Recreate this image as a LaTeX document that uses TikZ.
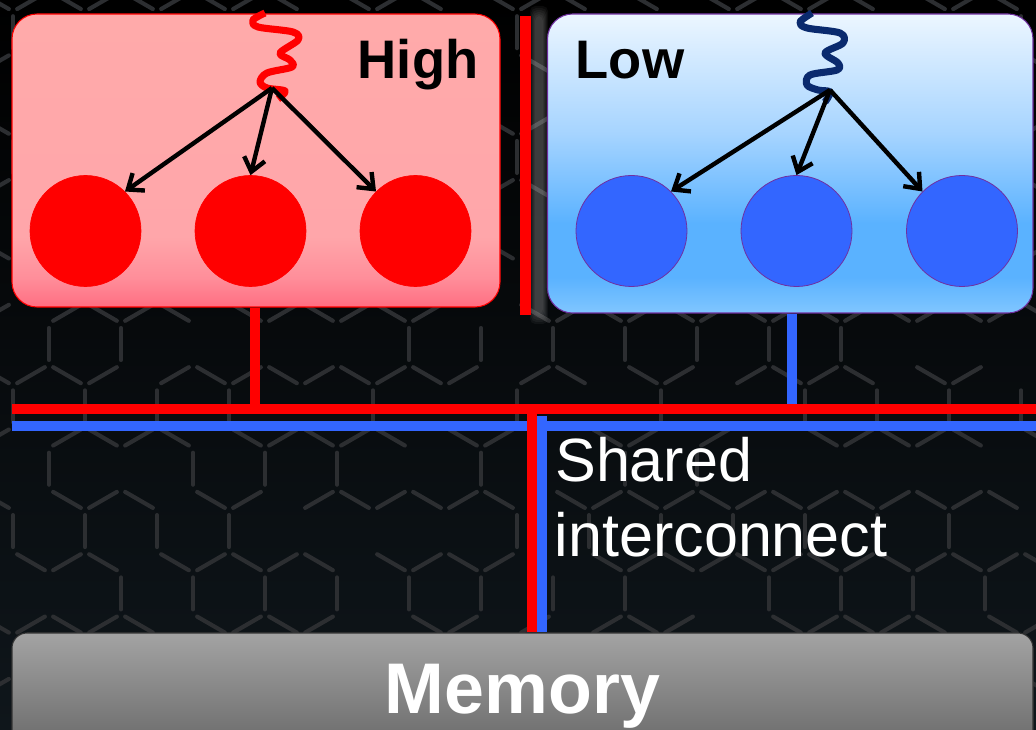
\documentclass[tikz,border=0pt]{standalone}
\usepackage{fontspec}
\setmainfont{Liberation Sans}
\usetikzlibrary{arrows.meta}

% palette
\definecolor{bgtop}{HTML}{000000}
\definecolor{bgmid}{HTML}{090D11}
\definecolor{bgbot}{HTML}{0F161B}
\definecolor{hexgray}{HTML}{2C2E31}
\definecolor{busred}{HTML}{FF0000}
\definecolor{busblue}{HTML}{3366FF}
\definecolor{lowedge}{HTML}{7030A0}
\definecolor{navy}{HTML}{0A2A6E}
\definecolor{hiT}{HTML}{FFAAAA}
\definecolor{hiM}{HTML}{FFA6AA}
\definecolor{hiL}{HTML}{FF8E9A}
\definecolor{hiB}{HTML}{FF6E82}
\definecolor{loT}{HTML}{ECF6FF}
\definecolor{loM}{HTML}{A6D4FF}
\definecolor{loL}{HTML}{5AB2FF}
\definecolor{loB}{HTML}{80C6FF}
\definecolor{memT}{HTML}{A3A3A3}
\definecolor{memB}{HTML}{6A6A6A}

% box fills: 25bp = bottom edge, 75bp = top edge
\pgfdeclareverticalshading{highfill}{100bp}{color(0bp)=(hiB); color(25bp)=(hiB); color(30bp)=(hiL); color(37bp)=(hiM); color(75bp)=(hiT); color(100bp)=(hiT)}
\pgfdeclareverticalshading{lowfill}{100bp}{color(0bp)=(loB); color(25bp)=(loB); color(31bp)=(loL); color(40bp)=(loL); color(55bp)=(loM); color(75bp)=(loT); color(100bp)=(loT)}

\tikzset{
  hexline/.style={draw=hexgray, line width=3.1pt, line cap=round, shorten <=3.6pt, shorten >=3.6pt},
  highbox/.style={draw=busred, line width=0.8pt, shading=highfill, rounded corners=18.75pt,
    minimum width=366pt, minimum height=219.75pt, inner sep=0pt},
  lowbox/.style={draw=lowedge, line width=0.8pt, shading=lowfill, rounded corners=18.75pt,
    minimum width=364.1pt, minimum height=224.25pt, inner sep=0pt},
  membox/.style={draw=black!80, line width=0.8pt, top color=memT, bottom color=memB,
    rounded corners=11.25pt, minimum width=765.75pt, minimum height=86.25pt, inner sep=0pt},
  hcore/.style={circle, fill=busred, draw=busred, line width=0.5pt, minimum size=83.25pt, inner sep=0pt},
  lcore/.style={circle, fill=busblue, draw=lowedge, line width=0.6pt, minimum size=83.25pt, inner sep=0pt},
  ptr/.style={draw=black, line width=3.3pt, -{Straight Barb[length=10pt, width=16pt, line width=3.3pt]}},
  redwire/.style={draw=busred, line width=7.5pt, line cap=butt},
  bluewire/.style={draw=busblue, line width=7.5pt, line cap=butt},
  wave/.style={line width=5.3pt, line cap=butt, line join=round},
  title/.style={font=\fontsize{40.7pt}{48pt}\selectfont\bfseries, text=black, inner sep=0pt},
  lbl/.style={font=\fontsize{45.8pt}{56pt}\selectfont, text=white, inner sep=0pt},
  memtxt/.style={font=\fontsize{53.8pt}{64pt}\selectfont\bfseries, text=white, inner sep=0pt},
}

\begin{document}
\begin{tikzpicture}[x=0.75pt, y=-0.75pt]
\useasboundingbox (0,0) rectangle (1036,730);
\clip (0,0) rectangle (1036,730);

% background
\shade[top color=bgtop, middle color=bgmid, bottom color=bgbot] (0,0) rectangle (1036,730);

% honeycomb of broken strokes
\pgfmathsetseed{4321}
\foreach \r in {-6,...,6}{
  \pgfmathsetmacro\yr{344+62.354*\r}
  \pgfmathsetmacro\xo{mod(\r+60,2)==1 ? 13 : 49}
  \pgfmathsetmacro\ya{\yr-20.78}
  \pgfmathsetmacro\yb{\yr+20.78}
  \pgfmathsetmacro\yc{\yr-41.57}
  \foreach \k in {-1,...,14}{
    \pgfmathsetmacro\xv{\xo+72*\k}
    \pgfmathsetmacro\ra{rnd}
    \pgfmathsetmacro\rb{rnd}
    \pgfmathsetmacro\rc{rnd}
    \ifdim\ra pt<0.72pt \draw[hexline] (\xv,\ya) -- (\xv,\yb); \fi
    \ifdim\rb pt<0.78pt \draw[hexline] (\xv,\ya) -- (\xv-36,\yc); \fi
    \ifdim\rc pt<0.78pt \draw[hexline] (\xv,\ya) -- (\xv+36,\yc); \fi
  }
}

% soft glow beside the divider
\foreach \g in {0,...,5}{
  \fill[white, fill opacity=0.045, rounded corners=4pt] (530+\g,6+2*\g) rectangle (548-\g,324-2*\g);
}

% divider between the two domains
\coordinate (divT) at (525.5,16);
\coordinate (divB) at (525.5,315);
\draw[redwire, line width=8.25pt] (divT) -- (divB);

% domains
\node[highbox] (high) at (256,160.5) {};
\node[lowbox] (low) at (790.25,163.5) {};
\node[membox] (mem) at (522.5,690.5) {};

\node[title, anchor=base west] (hightxt) at (357.5,79) {High};
\node[title, anchor=base west] (lowtxt) at (575.5,79) {Low};

% cores
\node[hcore] (h1) at (85.5,231) {};
\node[hcore] (h2) at (250.5,231) {};
\node[hcore] (h3) at (415.5,231) {};
\node[lcore] (l1) at (631.5,231) {};
\node[lcore] (l2) at (796.5,231) {};
\node[lcore] (l3) at (962,231) {};

% threads
\draw[wave, busred] plot[smooth, tension=0.55] coordinates {(265,13) (253,20) (258,27) (293,32) (298,40) (280,53) (290,60) (292,67) (267,73) (260,82) (267,88) (285,91) (278,99)};
\draw[wave, navy] plot[smooth, tension=0.55] coordinates {(812,13) (800,22) (807,28) (840,33) (843,43) (825,53) (838,63) (837,70) (810,75) (807,85) (818,90) (830,92) (825,102)};

\coordinate (hsrc) at (272,88);
\coordinate (lsrc) at (830,90);
\draw[ptr] (hsrc) -- (h1.45);
\draw[ptr] (hsrc) -- (h2.north);
\draw[ptr] (hsrc) -- (h3.135);
\draw[ptr] (lsrc) -- (l1.45);
\draw[ptr] (lsrc) -- (l2.north);
\draw[ptr] (lsrc) -- (l3.135);

% interconnect
\coordinate (rbusL) at (12,409);
\coordinate (rbusR) at (1036,409);
\coordinate (bbusL) at (12,426.5);
\coordinate (bbusR) at (1036,426.5);
\coordinate (hdrop) at (255,409);
\coordinate (ldrop) at (792,409);
\coordinate (rjoin) at (532,409);
\coordinate (bjoin) at (541.5,416);

\draw[bluewire] (ldrop |- low.south) -- (ldrop);
\draw[bluewire] (bbusL) -- (bbusR);
\draw[redwire] (rbusL) -- (rbusR);
\draw[redwire] (hdrop |- high.south) -- (hdrop);
\draw[redwire] (rjoin) -- (rjoin |- mem.north);
\draw[bluewire] (bjoin) -- (bjoin |- mem.north);

\node[lbl, anchor=base west] (sh1) at (555,482) {Shared};
\node[lbl, anchor=base west] (sh2) at (554.5,557) {interconnect};

\node[memtxt, anchor=base] (memlbl) at (522.5,714) {Memory};
\end{tikzpicture}
\end{document}
